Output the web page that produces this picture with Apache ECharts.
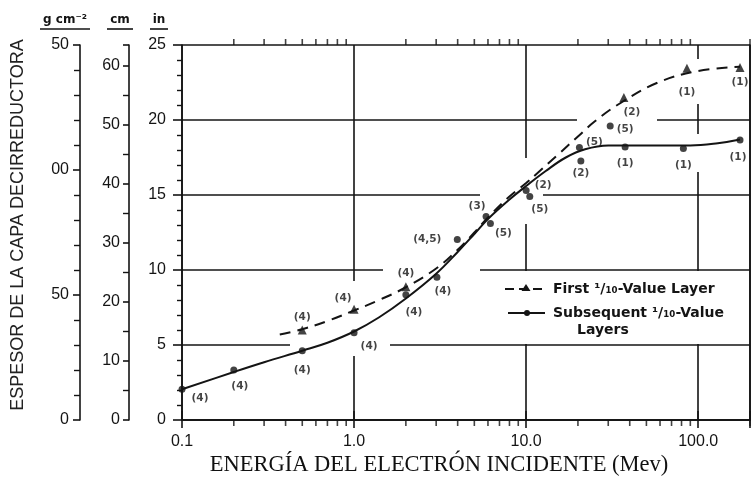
<!DOCTYPE html>
<html>
<head>
<meta charset="utf-8">
<script src="https://cdn.jsdelivr.net/npm/echarts@6/dist/echarts.min.js"></script>
<style>
  html, body { margin: 0; padding: 0; background: #fff; }
  #chart { width: 754px; height: 483px; }
</style>
</head>
<body>
<div id="chart"></div>
<script>
// ---- Data ----
// Energy tick labels (MeV)
const energyTicks = [0.1, 1, 10, 100];
const energyTickLabels = ['0.1', '1.0', '10.0', '100.0'];
const energyMinorTicks = [0.2, 0.3, 0.4, 0.5, 0.6, 0.7, 0.8, 0.9,
                          2, 3, 4, 5, 6, 7, 8, 9,
                          20, 30, 40, 50, 60, 70, 80, 90, 200];
// Thickness tick labels
const inchTicks = [0, 5, 10, 15, 20, 25];
const cmTicks = [0, 10, 20, 30, 40, 50, 60];
const gramTickLabels = ['0', '50', '00', '50'];

// Fitted curve: First 1/10-value layer (dashed)
const firstCurveE  = [0.37, 0.5, 0.7, 1.0, 1.4, 2.0, 3.0, 4.0, 5.0, 6.0, 8.0, 10, 12, 15, 20, 25, 35, 57, 98, 175];
const firstCurveIn = [5.7, 6.05, 6.6, 7.3, 8.0, 8.85, 10.1, 11.35, 12.5, 13.5, 14.9, 15.8, 16.6, 17.6, 18.9, 19.9, 21.1, 22.45, 23.25, 23.55];

// Fitted curve: Subsequent 1/10-value layers (solid)
const subCurveE  = [0.1, 0.2, 0.3, 0.5, 0.7, 1.0, 1.4, 2.0, 3.0, 4.0, 5.0, 6.0, 8.0, 10, 13, 17, 22, 30, 40, 90, 130, 175];
const subCurveIn = [2.05, 3.2, 3.85, 4.62, 5.15, 5.9, 6.85, 8.1, 9.75, 11.2, 12.4, 13.4, 14.7, 15.6, 16.6, 17.5, 18.05, 18.3, 18.3, 18.3, 18.45, 18.7];

// Measured points: First 1/10-value layer (triangles)
const firstPtsE  = [0.5, 1.0, 2.0, 37, 86, 175];
const firstPtsIn = [6.0, 7.38, 8.89, 21.5, 23.45, 23.5];
const firstPtsRef = ['(4)', '(4)', '(4)', '(2)', '(1)', '(1)'];

// Measured points: Subsequent 1/10-value layers (circles)
const subPtsE  = [0.1, 0.2, 0.5, 1.0, 2.0, 3.03, 3.98, 5.85, 6.2, 10, 10.5, 20.4, 20.8, 30.8, 37.6, 82, 175];
const subPtsIn = [2.05, 3.33, 4.62, 5.82, 8.35, 9.52, 12.04, 13.56, 13.1, 15.3, 14.9, 18.16, 17.27, 19.6, 18.2, 18.1, 18.67];
const subPtsRef = ['(4)', '(4)', '(4)', '(4)', '(4)', '(4)', '(4,5)', '(3)', '(5)', '(2)', '(5)', '(5)', '(2)', '(5)', '(1)', '(1)', '(1)'];

// ---- Styling (label placement offsets, px) ----
const firstLabelOffsets = [[0, -13], [-11, -11], [0, -13], [8, 15], [0, 24], [0, 15]];
const subLabelOffsets = [[18, 9], [6, 16], [0, 20], [15, 14], [8, 18], [6, 14], [-30, 0], [-9, -10],
                         [13, 10], [17, -5], [10, 13], [15, -5], [0, 12], [15, 3], [0, 16], [0, 17], [-2, 17]];

const INK = '#141414';
const labelFont = { fontFamily: 'DejaVu Sans', fontSize: 10.5, fontWeight: 'bold', color: INK };
const tickFont = { fontSize: 16, fontFamily: 'Liberation Sans', color: INK };

function pairs(xs, ys) { return xs.map((x, i) => [x, ys[i]]); }
function mask(x1, y1, x2, y2) {
  return { type: 'rect', z: 1, silent: true, shape: { x: x1, y: y1, width: x2 - x1, height: y2 - y1 }, style: { fill: '#fff' } };
}

const chart = echarts.init(document.getElementById('chart'), null, { renderer: 'canvas' });

const option = {
  backgroundColor: '#ffffff',
  animation: false,
  grid: { left: 182, right: 4, top: 45, bottom: 63, containLabel: false },
  xAxis: [
    {
      type: 'log', logBase: 10, min: 0.1, max: 200,
      axisLine: { show: true, lineStyle: { color: INK, width: 1.6 } },
      axisTick: { show: true, length: 8, lineStyle: { color: INK, width: 1.6 } },
      minorTick: { show: false },
      splitLine: { show: true, lineStyle: { color: INK, width: 1.6 } },
      axisLabel: Object.assign({
        show: true, margin: 14,
        formatter: function (v) {
          for (let i = 0; i < energyTicks.length; i++) {
            if (Math.abs(Math.log10(v) - Math.log10(energyTicks[i])) < 1e-6) return energyTickLabels[i];
          }
          return '';
        }
      }, tickFont)
    },
    {
      type: 'log', logBase: 10, min: 0.1, max: 200, position: 'top',
      axisLine: { show: true, lineStyle: { color: INK, width: 1.6 } },
      axisTick: { show: true, inside: false, length: 9, lineStyle: { color: INK, width: 1.6 } },
      axisLabel: { show: false }, splitLine: { show: false }
    }
  ],
  yAxis: [
    {
      type: 'value', min: 0, max: 25, interval: 5, position: 'left',
      axisLine: { show: true, lineStyle: { color: INK, width: 1.6 } },
      axisTick: { show: true, length: 9, lineStyle: { color: INK, width: 1.6 } },
      minorTick: { show: true, splitNumber: 5, length: 5, lineStyle: { color: INK, width: 1.4 } },
      splitLine: { show: true, lineStyle: { color: INK, width: 1.6 } },
      axisLabel: Object.assign({ margin: 16,
        formatter: v => inchTicks.indexOf(v) >= 0 ? String(v) : '' }, tickFont)
    },
    {
      type: 'value', min: 0, max: 63.5, interval: 10, position: 'left', offset: 53,
      axisLine: { show: true, onZero: false, lineStyle: { color: INK, width: 1.6 } },
      axisTick: { show: true, length: 6, lineStyle: { color: INK, width: 1.6 } },
      minorTick: { show: true, splitNumber: 2, length: 6, lineStyle: { color: INK, width: 1.4 } },
      splitLine: { show: false },
      axisLabel: Object.assign({ margin: 9,
        formatter: v => cmTicks.indexOf(v) >= 0 ? String(v) : '' }, tickFont)
    },
    {
      type: 'value', min: 0, max: 150, interval: 50, position: 'left', offset: 102,
      axisLine: { show: true, onZero: false, lineStyle: { color: INK, width: 1.6 } },
      axisTick: { show: true, length: 7, lineStyle: { color: INK, width: 1.6 } },
      minorTick: { show: true, splitNumber: 5, length: 6, lineStyle: { color: INK, width: 1.4 } },
      splitLine: { show: false },
      axisLabel: Object.assign({ margin: 11,
        formatter: v => { const i = Math.round(v / 50); return (Math.abs(v - i * 50) < 1e-6 && i < gramTickLabels.length) ? gramTickLabels[i] : ''; } }, tickFont)
    },
    {
      type: 'value', min: 0, max: 25, position: 'right',
      axisLine: { show: true, onZero: false, lineStyle: { color: INK, width: 1.6 } },
      axisTick: { show: false }, axisLabel: { show: false }, splitLine: { show: false }
    }
  ],
  series: [
    {
      name: 'First 1/10-Value Layer curve', type: 'line', smooth: 0.4,
      data: pairs(firstCurveE, firstCurveIn), symbol: 'none',
      lineStyle: { color: INK, width: 2, type: [11, 7] }, z: 3
    },
    {
      name: 'Subsequent 1/10-Value Layers curve', type: 'line', smooth: 0.4,
      data: pairs(subCurveE, subCurveIn), symbol: 'none',
      lineStyle: { color: INK, width: 2 }, z: 3
    },
    {
      name: 'First 1/10-Value Layer', type: 'scatter', symbol: 'triangle', symbolSize: 9,
      itemStyle: { color: INK }, z: 4,
      data: firstPtsE.map((e, i) => ({
        value: [e, firstPtsIn[i]],
        label: Object.assign({ show: true, position: 'inside', offset: firstLabelOffsets[i], formatter: firstPtsRef[i] }, labelFont)
      }))
    },
    {
      name: 'Subsequent 1/10-Value Layers', type: 'scatter', symbol: 'circle', symbolSize: 7,
      itemStyle: { color: INK }, z: 4,
      data: subPtsE.map((e, i) => ({
        value: [e, subPtsIn[i]],
        label: Object.assign({ show: true, position: 'inside', offset: subLabelOffsets[i], formatter: subPtsRef[i] }, labelFont)
      }))
    },
    {
      name: 'minor ticks bottom', type: 'scatter', symbol: 'rect', symbolSize: [1.6, 6],
      symbolOffset: [0, 3], clip: false, silent: true, itemStyle: { color: INK }, z: 2,
      data: energyMinorTicks.map(e => [e, 0])
    },
    {
      name: 'minor ticks top', type: 'scatter', symbol: 'rect', symbolSize: [1.6, 6],
      symbolOffset: [0, -3], clip: false, silent: true, itemStyle: { color: INK }, z: 2,
      data: energyMinorTicks.map(e => [e, 25])
    }
  ],
  graphic: [
    // gaps in the grid lines of the original drawing
    mask(290, 339, 390, 351),
    mask(383, 264, 480, 276),
    mask(348, 281, 360, 356),
    mask(480, 189, 543, 201),
    mask(577, 114, 657, 126),
    mask(520, 158, 532, 224),
    mask(692, 59, 704, 104),
    mask(692, 134, 704, 172),
    { type: 'text', x: 18, y: 225, rotation: Math.PI / 2,
      style: { text: 'ESPESOR DE LA CAPA DECIRREDUCTORA', font: '18px "Liberation Sans"', fill: '#222', textAlign: 'center', textVerticalAlign: 'middle' } },
    { type: 'text', x: 439, y: 465,
      style: { text: 'ENERGÍA DEL ELECTRÓN INCIDENTE (Mev)', font: '22.5px "Liberation Serif"', fill: '#111', textAlign: 'center', textVerticalAlign: 'middle' } },
    { type: 'text', x: 65, y: 20,
      style: { text: 'g cm⁻²', font: 'bold 12px "DejaVu Sans"', fill: INK, textAlign: 'center', textVerticalAlign: 'middle' } },
    { type: 'line', shape: { x1: 40, y1: 29, x2: 90, y2: 29 }, style: { stroke: INK, lineWidth: 1.6 } },
    { type: 'text', x: 120, y: 20,
      style: { text: 'cm', font: 'bold 12px "DejaVu Sans"', fill: INK, textAlign: 'center', textVerticalAlign: 'middle' } },
    { type: 'line', shape: { x1: 107, y1: 29, x2: 133, y2: 29 }, style: { stroke: INK, lineWidth: 1.6 } },
    { type: 'text', x: 159, y: 20,
      style: { text: 'in', font: 'bold 12px "DejaVu Sans"', fill: INK, textAlign: 'center', textVerticalAlign: 'middle' } },
    { type: 'line', shape: { x1: 150, y1: 29, x2: 168, y2: 29 }, style: { stroke: INK, lineWidth: 1.6 } },
    // legend
    mask(481, 271, 749, 344),
    { type: 'line', shape: { x1: 505, y1: 289, x2: 547, y2: 289 }, style: { stroke: INK, lineWidth: 2, lineDash: [9, 5] }, z: 11 },
    { type: 'polygon', shape: { points: [[526, 284], [530.5, 291], [521.5, 291]] }, style: { fill: INK }, z: 11 },
    { type: 'text', x: 553, y: 289, z: 11,
      style: { text: 'First ¹/₁₀-Value Layer', font: 'bold 14px "DejaVu Sans"', fill: INK, textVerticalAlign: 'middle' } },
    { type: 'line', shape: { x1: 508, y1: 313, x2: 545, y2: 313 }, style: { stroke: INK, lineWidth: 2 }, z: 11 },
    { type: 'circle', shape: { cx: 527, cy: 313, r: 3 }, style: { fill: INK }, z: 11 },
    { type: 'text', x: 553, y: 313, z: 11,
      style: { text: 'Subsequent ¹/₁₀-Value', font: 'bold 14px "DejaVu Sans"', fill: INK, textVerticalAlign: 'middle' } },
    { type: 'text', x: 577, y: 330, z: 11,
      style: { text: 'Layers', font: 'bold 14px "DejaVu Sans"', fill: INK, textVerticalAlign: 'middle' } }
  ]
};

chart.setOption(option);
</script>
</body>
</html>
